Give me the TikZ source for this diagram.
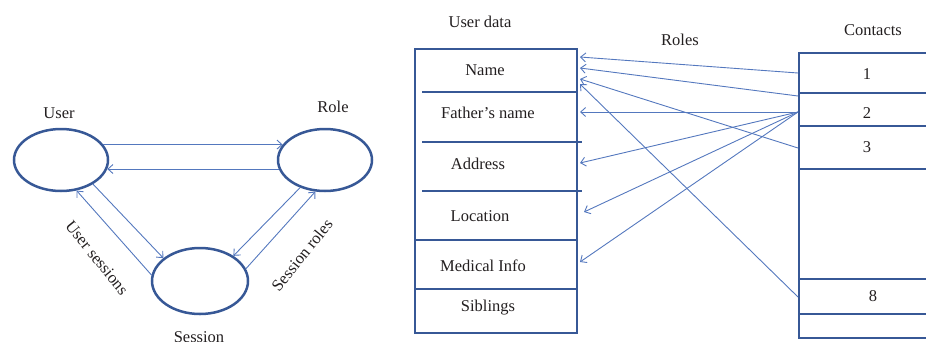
\documentclass[tikz,border=0pt]{standalone}
\usepackage{fontspec}
\setmainfont{Liberation Serif}
\usetikzlibrary{arrows.meta,shapes.geometric}
\definecolor{edgeblue}{RGB}{84,120,190}
\definecolor{frameblue}{RGB}{55,88,150}
\definecolor{inkgray}{RGB}{35,31,32}
\tikzset{
  ent/.style={ellipse, draw=frameblue, line width=2.5pt, inner sep=0pt,
              minimum width=94pt, minimum height=62pt},
  lbl/.style={font=\fontsize{16.5}{19}\selectfont, text=inkgray, inner sep=0pt},
  arr/.style={draw=edgeblue, line width=0.9pt,
              -{Straight Barb[length=5pt,width=9pt]}},
  frame/.style={draw=frameblue, line width=2.4pt},
  thinrule/.style={draw=frameblue, line width=1.1pt},
  thickrule/.style={draw=frameblue, line width=2pt},
}
\begin{document}
\begin{tikzpicture}[x=1pt,y=-1pt]
  \path[use as bounding box] (0,0) rectangle (926,341);
  \clip (0,0) rectangle (926,341);

  % ---- access-control triangle ----
  \node[ent] (user) at (61,160) {};
  \node[ent] (role) at (325,160) {};
  \node[ent, minimum width=96pt, minimum height=66pt] (session) at (200,281) {};

  \node[lbl] (userlbl) at (59,113) {User};
  \node[lbl] (rolelbl) at (333,107) {Role};
  \node[lbl] (sessionlbl) at (199,337) {Session};
  \node[lbl, rotate=-51] (uslbl) at (97,258) {User sessions};
  \node[lbl, rotate=51] (srlbl) at (302,255) {Session roles};

  \draw[arr] (user.20) -- (role.160);
  \draw[arr] (role.191) -- (user.-11);
  \draw[arr] (user.-37) -- (session.148);
  \draw[arr] (session.173) -- (user.-63);
  \draw[arr] (role.-132) -- (session.37);
  \draw[arr] (session.15) -- (role.-107);

  % ---- user data table ----
  \node[lbl] (udhead) at (480,22) {User data};
  \draw[frame] (415,49) rectangle (577,333);
  \draw[thinrule] (422,92) -- (577,92);
  \draw[thinrule] (422,142) -- (582,142);
  \draw[thinrule] (422,191) -- (582,191);
  \draw[thinrule] (415,240) -- (577,240);
  \draw[thinrule] (415,289) -- (577,289);

  \node[lbl] (fname) at (485,70) {Name};
  \node[lbl] (ffather) at (488,113) {Father’s name};
  \node[lbl] (faddr) at (478,164) {Address};
  \node[lbl] (floc) at (480,216) {Location};
  \node[lbl] (fmed) at (483,266) {Medical Info};
  \node[lbl] (fsib) at (488,308) {Siblings};

  % ---- contacts table ----
  \node[lbl] (cthead) at (873,30) {Contacts};
  \draw[frame] (940,53) -- (799,53) -- (799,338) -- (940,338);
  \draw[thinrule] (799,93) -- (940,93);
  \draw[thickrule] (799,126) -- (940,126);
  \draw[thickrule] (799,169) -- (940,169);
  \draw[thinrule] (799,279) -- (940,279);
  \draw[thickrule] (799,314) -- (940,314);

  \node[lbl] (k1) at (867,74) {1};
  \node[lbl] (k2) at (867,113) {2};
  \node[lbl] (k3) at (867,147) {3};
  \node[lbl] (k8) at (873,296) {8};

  \node[lbl] (roleshead) at (680,40) {Roles};

  % ---- role links ----
  \coordinate (c1)  at (798,73);
  \coordinate (c1b) at (798,96);
  \coordinate (hub) at (798,112);
  \coordinate (c3)  at (798,148);
  \coordinate (c8)  at (798,297);

  \coordinate (n1) at (580,57);
  \coordinate (n2) at (580,68);
  \coordinate (n3) at (580,79);
  \coordinate (n4) at (580,84);
  \coordinate (fa) at (580,112);
  \coordinate (ad) at (580,163);
  \coordinate (lo) at (584,212);
  \coordinate (me) at (580,262);

  \draw[arr] (c1) -- (n1);
  \draw[arr] (c1b) -- (n2);
  \draw[arr] (c3) -- (n3);
  \draw[arr] (c8) -- (n4);
  \draw[arr] (hub) -- (fa);
  \draw[arr] (hub) -- (ad);
  \draw[arr] (hub) -- (lo);
  \draw[arr] (hub) -- (me);
\end{tikzpicture}
\end{document}
